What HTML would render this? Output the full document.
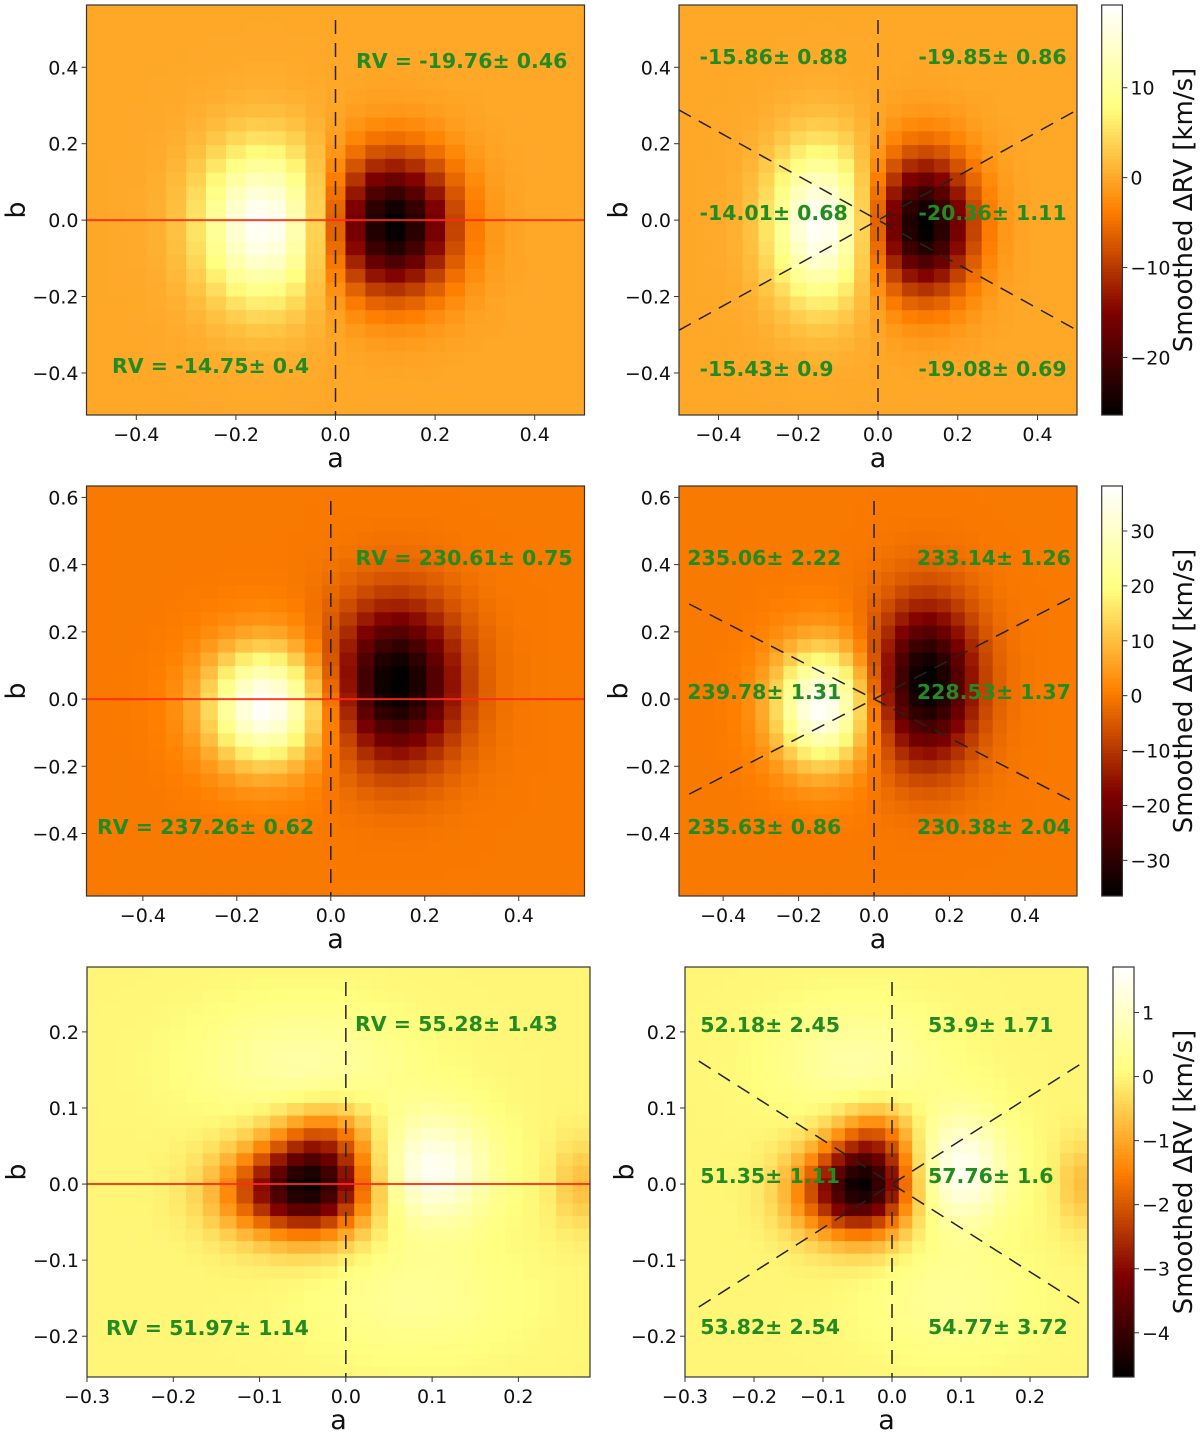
<!DOCTYPE html>
<html><head><meta charset="utf-8">
<style>
html,body{margin:0;padding:0;background:#fff;}
svg{display:block;font-family:"DejaVu Sans","Liberation Sans",sans-serif;}
.tl{font-size:19px;fill:#111;}
.al{font-size:27px;fill:#111;}
.ann{font-size:20.5px;font-weight:bold;fill:#228b22;}
</style></head>
<body>
<svg id="fig" width="1200" height="1433" viewBox="0 0 1200 1433" xmlns="http://www.w3.org/2000/svg"></svg>
<script>
// ---- data: smoothed ΔRV maps modelled as blob components per row ----
const row1Amp = [19, -26.5];
const row1A   = [-0.145, 0.115];
const row1B   = [-0.01, -0.01];
const row1SA  = [0.085, 0.085];
const row1SB  = [0.14, 0.125];

const row2Amp = [38, -37];
const row2A   = [-0.14, 0.14];
const row2B   = [-0.02, 0.05];
const row2SA  = [0.085, 0.09];
const row2SB  = [0.12, 0.16];

const row3Amp = [-4.0, -1.5, 1.6, 0.6, -0.7, 0.4, -0.8];
const row3A   = [-0.035, -0.1, 0.1, -0.05, 0.27, 0.08, -0.02];
const row3B   = [0.0, -0.01, 0.02, 0.16, 0.0, -0.15, 0.07];
const row3SA  = [0.045, 0.045, 0.045, 0.08, 0.02, 0.08, 0.04];
const row3SB  = [0.045, 0.04, 0.05, 0.05, 0.04, 0.05, 0.03];

const colorRange1 = [-26.4, 19.2];
const colorRange2 = [-36.5, 38.2];
const colorRange3 = [-4.69, 1.71];
const cbTicks1 = [-20, -10, 0, 10];
const cbTicks2 = [-30, -20, -10, 0, 10, 20, 30];
const cbTicks3 = [-4, -3, -2, -1, 0, 1];

const xTicksWide = [-0.4, -0.2, 0.0, 0.2, 0.4];
const yTicks1 = [-0.4, -0.2, 0.0, 0.2, 0.4];
const yTicks2 = [-0.4, -0.2, 0.0, 0.2, 0.4, 0.6];
const xTicks3 = [-0.3, -0.2, -0.1, 0.0, 0.1, 0.2];
const yTicks3 = [-0.2, -0.1, 0.0, 0.1, 0.2];

const rvLeft1 = ["RV = -19.76\u00b1 0.46", "RV = -14.75\u00b1 0.4"];
const rvRight1 = ["-15.86\u00b1 0.88", "-19.85\u00b1 0.86", "-14.01\u00b1 0.68", "-20.36\u00b1 1.11", "-15.43\u00b1 0.9", "-19.08\u00b1 0.69"];
const rvLeft2 = ["RV = 230.61\u00b1 0.75", "RV = 237.26\u00b1 0.62"];
const rvRight2 = ["235.06\u00b1 2.22", "233.14\u00b1 1.26", "239.78\u00b1 1.31", "228.53\u00b1 1.37", "235.63\u00b1 0.86", "230.38\u00b1 2.04"];
const rvLeft3 = ["RV = 55.28\u00b1 1.43", "RV = 51.97\u00b1 1.14"];
const rvRight3 = ["52.18\u00b1 2.45", "53.9\u00b1 1.71", "51.35\u00b1 1.11", "57.76\u00b1 1.6", "53.82\u00b1 2.54", "54.77\u00b1 3.72"];

const NS = "http://www.w3.org/2000/svg";
const fig = document.getElementById('fig');
function mk(tag, attrs, parent){ const e=document.createElementNS(NS,tag); for(const k in attrs) e.setAttribute(k,attrs[k]); (parent||fig).appendChild(e); return e; }
function afmhot(t){ t=Math.max(0,Math.min(1,t)); const c=v=>Math.round(255*Math.max(0,Math.min(1,v))); return `rgb(${c(2*t)},${c(2*t-0.5)},${c(2*t-1)})`; }
function fmt(v,d){ return (v<0?"\u2212":"")+Math.abs(v).toFixed(d); }

const rows = [
 {amp:row1Amp,A:row1A,B:row1B,SA:row1SA,SB:row1SB,cr:colorRange1,cbt:cbTicks1,cell:[0.04,0.036],
  py:[5,415], b:[-0.510,0.563], yt:yTicks1, yd:1,
  L:{px:[86.5,584.5],a:[-0.5,0.5],xt:xTicksWide,xd:1},
  R:{px:[679,1077],a:[-0.499,0.499],xt:xTicksWide,xd:1},
  cb:[1101.7,1122.4], diag:[-0.5,0.5],
  lt:rvLeft1, rt:rvRight1,
  ltPos:[[356,61],[112,366]], rtX:[699.5,918.4], rtY:[57,213,369]},
 {amp:row2Amp,A:row2A,B:row2B,SA:row2SA,SB:row2SB,cr:colorRange2,cbt:cbTicks2,cell:[0.037,0.04],
  py:[486,896], b:[-0.586,0.634], yt:yTicks2, yd:1,
  L:{px:[86.5,584.5],a:[-0.520,0.540],xt:xTicksWide,xd:1},
  R:{px:[679,1077],a:[-0.517,0.538],xt:xTicksWide,xd:1},
  cb:[1101.7,1122.4], diag:[-0.49,0.52],
  lt:rvLeft2, rt:rvRight2,
  ltPos:[[355.5,558],[97,827]], rtX:[687.3,916.9], rtY:[558,692,827]},
 {amp:row3Amp,A:row3A,B:row3B,SA:row3SA,SB:row3SB,cr:colorRange3,cbt:cbTicks3,cell:[0.0195,0.0165],
  py:[967,1377], b:[-0.2536,0.2853], yt:yTicks3, yd:1,
  L:{px:[87,590],a:[-0.3,0.283],xt:xTicks3,xd:1},
  R:{px:[685,1088],a:[-0.3,0.284],xt:xTicks3,xd:1},
  cb:[1113,1134], diag:[-0.28,0.28],
  lt:rvLeft3, rt:rvRight3,
  ltPos:[[355,1024],[106,1328]], rtX:[700.3,928], rtY:[1025,1176,1327]}
];

function val(r,a,b){ let s=0; for(let i=0;i<r.amp.length;i++){ const da=a-r.A[i], db=b-r.B[i]; s+=r.amp[i]*Math.exp(-da*da/(2*r.SA[i]*r.SA[i])-db*db/(2*r.SB[i]*r.SB[i])); } return s; }

let clipId=0;
function panel(r, P, side, ri){
  const g=mk('g',{});
  
  
  const xs=a=>P.px[0]+(a-P.a[0])/(P.a[1]-P.a[0])*(P.px[1]-P.px[0]);
  const ys=b=>r.py[1]-(b-r.b[0])/(r.b[1]-r.b[0])*(r.py[1]-r.py[0]);
  const cid='clip'+(clipId++);
  const cp=mk('clipPath',{id:cid},g); mk('rect',{x:P.px[0],y:r.py[0],width:P.px[1]-P.px[0],height:r.py[1]-r.py[0]},cp);
  const hm=mk('g',{'clip-path':`url(#${cid})`},g);
  
  
  const [ca,cb]=r.cell;
  const i0=Math.floor(P.a[0]/ca)-1, i1=Math.ceil(P.a[1]/ca)+1;
  const j0=Math.floor(r.b[0]/cb)-1, j1=Math.ceil(r.b[1]/cb)+1;
  for(let i=i0;i<=i1;i++){ for(let j=j0;j<=j1;j++){
    const a0=(i-0.5)*ca, a1=(i+0.5)*ca, b0=(j-0.5)*cb, b1=(j+0.5)*cb;
    const v=val(r,i*ca,j*cb);
    const x0=xs(a0), x1=xs(a1), y0=ys(b1), y1=ys(b0);
    const rc=mk('rect',{x:x0.toFixed(2),y:y0.toFixed(2),width:(x1-x0+0.6).toFixed(2),height:(y1-y0+0.6).toFixed(2),fill:afmhot((v-r.cr[0])/(r.cr[1]-r.cr[0]))},hm);
    
    
  }}
  if(side==='left'){
    const rl=mk('line',{x1:P.px[0],x2:P.px[1],y1:ys(0),y2:ys(0),stroke:'#ff2a1a','stroke-width':2,'stroke-opacity':0.9},hm);
    
    
  } else {
    const t=Math.tan(Math.PI/6);
    const d1=mk('line',{x1:xs(r.diag[0]),y1:ys(-t*r.diag[0]),x2:xs(r.diag[1]),y2:ys(-t*r.diag[1]),stroke:'#222','stroke-width':1.5,'stroke-dasharray':'14,9'},hm);
    
    
    const d2=mk('line',{x1:xs(r.diag[0]),y1:ys(t*r.diag[0]),x2:xs(r.diag[1]),y2:ys(t*r.diag[1]),stroke:'#222','stroke-width':1.5,'stroke-dasharray':'14,9'},hm);
    
    
  }
  const vl=mk('line',{x1:xs(0),x2:xs(0),y1:r.py[0]+15,y2:r.py[1],stroke:'#222','stroke-width':1.5,'stroke-dasharray':'14,9'},hm);
  
  
  const fr=mk('rect',{x:P.px[0],y:r.py[0],width:P.px[1]-P.px[0],height:r.py[1]-r.py[0],fill:'none',stroke:'#333','stroke-width':1.2},g);
  
  
  P.xt.forEach(v=>{ const x=xs(v);
    mk('line',{x1:x,x2:x,y1:r.py[1],y2:r.py[1]+5,stroke:'#333','stroke-width':1},g);
    const tx=mk('text',{x:x,y:r.py[1]+26,'text-anchor':'middle',class:'tl'},g); tx.textContent=fmt(v,1);
    
    
  });
  r.yt.forEach(v=>{ const y=ys(v);
    mk('line',{x1:P.px[0]-5,x2:P.px[0],y1:y,y2:y,stroke:'#333','stroke-width':1},g);
    const tx=mk('text',{x:P.px[0]-8,y:y+7,'text-anchor':'end',class:'tl'},g); tx.textContent=fmt(v,1);
    
    
  });
  const xl=mk('text',{x:(P.px[0]+P.px[1])/2,y:r.py[1]+52,'text-anchor':'middle',class:'al'},g); xl.textContent='a';
  
  
  const ylx=P.px[0]-(side==='left'?70:60);
  const yl=mk('text',{x:ylx,y:(r.py[0]+r.py[1])/2,'text-anchor':'middle',class:'al','dominant-baseline':'central',transform:`rotate(-90 ${ylx} ${(r.py[0]+r.py[1])/2})`},g); yl.textContent='b';
  
  
  if(side==='left'){
    r.lt.forEach((s,k)=>{ const t=mk('text',{x:r.ltPos[k][0],y:r.ltPos[k][1],'dominant-baseline':'central',class:'ann'},g); t.textContent=s;
      
       });
  } else {
    r.rt.forEach((s,k)=>{ const t=mk('text',{x:r.rtX[k%2],y:r.rtY[Math.floor(k/2)],'dominant-baseline':'central',class:'ann'},g); t.textContent=s;
      
       });
  }
}

function colorbar(r, ri){
  const g=mk('g',{});
  
  
  const [x0,x1]=r.cb, [y0,y1]=r.py;
  const n=120;
  for(let k=0;k<n;k++){
    const t=(k+0.5)/n;
    mk('rect',{x:x0,y:(y1-(k+1)*(y1-y0)/n).toFixed(2),width:x1-x0,height:((y1-y0)/n+0.5).toFixed(2),fill:afmhot(t)},g);
  }
  mk('rect',{x:x0,y:y0,width:x1-x0,height:y1-y0,fill:'none',stroke:'#333','stroke-width':1.2},g);
  const ys=v=>y1-(v-r.cr[0])/(r.cr[1]-r.cr[0])*(y1-y0);
  r.cbt.forEach(v=>{ const y=ys(v);
    mk('line',{x1:x1,x2:x1+5,y1:y,y2:y,stroke:'#333','stroke-width':1},g);
    const t=mk('text',{x:x1+8,y:y+7,class:'tl'},g); t.textContent=fmt(v,0);
    
    
  });
  const cx=1184, cy=(y0+y1)/2;
  const lab=mk('text',{x:cx,y:cy,'text-anchor':'middle','dominant-baseline':'central',class:'al',style:'font-size:26px',transform:`rotate(-90 ${cx} ${cy})`},g);
  lab.textContent='Smoothed \u0394RV [km/s]';
  
  
}

rows.forEach((r,ri)=>{ panel(r,r.L,'left',ri); panel(r,r.R,'right',ri); colorbar(r,ri); });
</script>
</body></html>
